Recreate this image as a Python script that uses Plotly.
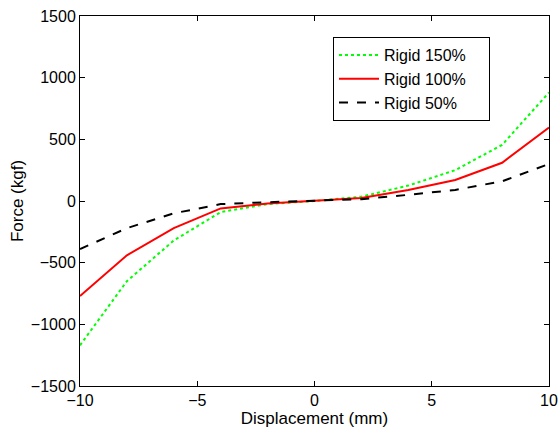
import plotly.graph_objects as go

displacement = [-10, -8, -6, -4, -2, 0, 2, 4, 6, 8, 10]
rigid_150 = [-1170, -650, -320, -90, -25, 0, 35, 125, 250, 455, 880]
rigid_100 = [-770, -440, -220, -60, -20, 0, 25, 90, 170, 310, 595]
rigid_50 = [-390, -220, -100, -25, -10, 0, 15, 50, 90, 160, 300]
series_names = ["Rigid 150%", "Rigid 100%", "Rigid 50%"]

pad = "\u00a0" * 4
fig = go.Figure()
fig.add_trace(go.Scatter(x=displacement, y=rigid_150, mode="lines", name=series_names[0] + pad,
                         line=dict(color="#00ff00", width=2, dash="dot")))
fig.add_trace(go.Scatter(x=displacement, y=rigid_100, mode="lines", name=series_names[1] + pad,
                         line=dict(color="#ff0000", width=2)))
fig.add_trace(go.Scatter(x=displacement, y=rigid_50, mode="lines", name=series_names[2] + pad,
                         line=dict(color="#000000", width=2, dash="dash")))

fnt = "Arial, Liberation Sans, sans-serif"
axis_common = dict(showgrid=False, zeroline=False, showline=True, linecolor="black",
                   linewidth=1, mirror="ticks", ticks="inside", ticklen=5,
                   tickcolor="black", automargin=False,
                   tickfont=dict(family=fnt, size=16, color="black"))

fig.update_layout(
    width=560, height=433,
    margin=dict(l=80, r=11, t=16, b=47, autoexpand=False),
    paper_bgcolor="white", plot_bgcolor="white",
    font=dict(family=fnt, size=17, color="black"),
    xaxis=dict(range=[-10, 10], tickvals=[-10, -5, 0, 5, 10],
               title=dict(text="Displacement (mm)", font=dict(size=17), standoff=0), **axis_common),
    yaxis=dict(range=[-1500, 1500], tickvals=[-1500, -1000, -500, 0, 500, 1000, 1500],
               title=dict(text="Force (kgf)", font=dict(size=17), standoff=2), **axis_common),
    legend=dict(x=(333 - 80) / 469, y=(386 - 37) / 370, xanchor="left", yanchor="top",
                bgcolor="white", bordercolor="black", borderwidth=1,
                font=dict(size=16), tracegroupgap=0, itemwidth=40),
    showlegend=True,
)

fig.write_html("out.html", config={"displayModeBar": False},
               post_script="document.body.style.margin='0px';")
